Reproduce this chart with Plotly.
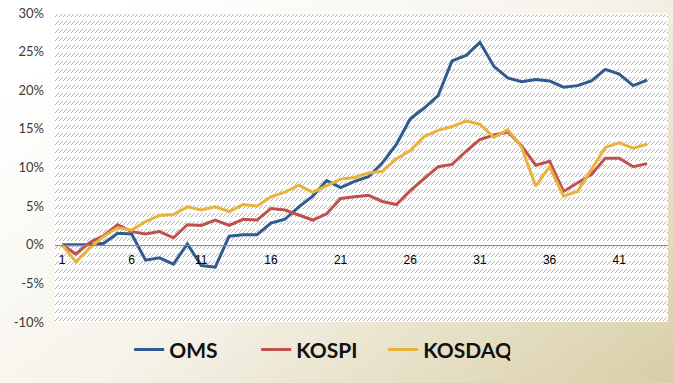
import base64
import plotly.graph_objects as go

# ---- data ----
periods = list(range(1, 44))
oms = [0, 0, 0, 0.2, 1.5, 1.4, -2.0, -1.7, -2.5, 0.1,
       -2.7, -2.9, 1.1, 1.3, 1.3, 2.8, 3.3, 4.9, 6.3, 8.3,
       7.4, 8.2, 8.8, 10.6, 13.0, 16.3, 17.7, 19.3, 23.8, 24.5,
       26.2, 23.1, 21.6, 21.1, 21.4, 21.2, 20.4, 20.6, 21.2, 22.7,
       22.1, 20.6, 21.3]
kospi = [0, -1.2, 0.3, 1.2, 2.6, 1.7, 1.4, 1.7, 0.9, 2.6,
         2.5, 3.2, 2.5, 3.3, 3.2, 4.7, 4.5, 3.9, 3.2, 4.0,
         6.0, 6.2, 6.4, 5.6, 5.2, 7.0, 8.6, 10.1, 10.4, 12.1,
         13.6, 14.2, 14.6, 12.8, 10.3, 10.8, 6.9, 8.0, 9.1, 11.2,
         11.2, 10.1, 10.5]
kosdaq = [0, -2.2, -0.4, 1.1, 2.2, 1.9, 3.0, 3.8, 3.9, 4.9,
          4.5, 4.9, 4.3, 5.2, 5.0, 6.2, 6.8, 7.7, 6.8, 7.7,
          8.5, 8.7, 9.3, 9.5, 11.1, 12.2, 14.0, 14.8, 15.3, 16.0,
          15.6, 13.9, 14.9, 12.6, 7.6, 10.1, 6.3, 6.9, 9.7, 12.6,
          13.2, 12.5, 13.0]
series_names = ["OMS", "KOSPI", "KOSDAQ"]
x_tick_vals = [1, 6, 11, 16, 21, 26, 31, 36, 41]
x_tick_text = ["1", "6", "11", "16", "21", "26", "31", "36", "41"]
y_tick_vals = [-10, -5, 0, 5, 10, 15, 20, 25, 30]
y_tick_text = ["-10%", "-5%", "0%", "5%", "10%", "15%", "20%", "25%", "30%"]

colors = ["#2F5B8E", "#C0504D", "#E8B23C"]

W, H = 673, 383
ML, MR, MT, MB = 55, 5, 13, 61
PW, PH = W - ML - MR, H - MT - MB

# background gradient (white -> beige towards bottom right)
bg_svg = f'''<svg xmlns="http://www.w3.org/2000/svg" width="{W}" height="{H}" viewBox="0 0 {W} {H}">
<defs><linearGradient id="g" x1="0" y1="0.25" x2="1" y2="1">
<stop offset="0" stop-color="#FFFFFF"/><stop offset="0.45" stop-color="#F6F3EA"/>
<stop offset="1" stop-color="#D8CEA6"/></linearGradient></defs>
<rect width="{W}" height="{H}" fill="url(#g)"/></svg>'''

HC = "#B2B2B2"
# dashed upward diagonal hatch for the plot area
hatch_svg = f'''<svg xmlns="http://www.w3.org/2000/svg" width="{PW}" height="{PH}" viewBox="0 0 {PW} {PH}" shape-rendering="crispEdges">
<defs><pattern id="p" width="8" height="8" patternUnits="userSpaceOnUse">
<rect x="0" y="3" width="1" height="1" fill="{HC}"/><rect x="1" y="2" width="1" height="1" fill="{HC}"/>
<rect x="2" y="1" width="1" height="1" fill="{HC}"/><rect x="3" y="0" width="1" height="1" fill="{HC}"/>
<rect x="4" y="3" width="1" height="1" fill="{HC}"/><rect x="5" y="2" width="1" height="1" fill="{HC}"/>
<rect x="6" y="1" width="1" height="1" fill="{HC}"/><rect x="7" y="0" width="1" height="1" fill="{HC}"/>
</pattern></defs>
<rect width="{PW}" height="{PH}" fill="#FFFFFF"/><rect y="1" width="{PW}" height="{PH}" fill="url(#p)"/></svg>'''


def uri(s):
    return "data:image/svg+xml;base64," + base64.b64encode(s.encode()).decode()


fig = go.Figure()
for name, vals, c in zip(series_names, [oms, kospi, kosdaq], colors):
    fig.add_trace(go.Scatter(x=periods, y=vals, name=name, mode="lines",
                             line=dict(color=c, width=3)))

fig.update_layout(
    width=W, height=H,
    margin=dict(l=ML, r=MR, t=MT, b=MB, autoexpand=False),
    paper_bgcolor="#FFFFFF",
    plot_bgcolor="rgba(0,0,0,0)",
    images=[
        dict(source=uri(bg_svg), xref="paper", yref="paper",
             x=-ML / PW, y=1 + MT / PH, sizex=W / PW, sizey=H / PH,
             sizing="stretch", layer="below", xanchor="left", yanchor="top"),
        dict(source=uri(hatch_svg), xref="paper", yref="paper",
             x=0, y=1, sizex=1, sizey=1, sizing="stretch", layer="below",
             xanchor="left", yanchor="top"),
    ],
    xaxis=dict(range=[0.5, 44.5], showgrid=False, zeroline=False,
               showline=True, linecolor="#8A8A8A", linewidth=1,
               anchor="free", position=0.25, automargin=False,
               tickmode="array", tickvals=x_tick_vals, ticktext=x_tick_text,
               ticks="", ticklabelstandoff=4,
               tickfont=dict(family="Liberation Sans", size=12, color="#000000")),
    yaxis=dict(range=[-10, 30], showgrid=False, zeroline=False, showline=False,
               automargin=False,
               tickmode="array", tickvals=y_tick_vals, ticktext=y_tick_text,
               ticks="", ticklabelstandoff=10,
               tickfont=dict(family="Lato", size=13, color="#3A3A3A")),
    legend=dict(orientation="h", x=0.121, y=-0.09, xanchor="left", yanchor="middle",
                itemwidth=30, entrywidth=82, entrywidthmode="pixels",
                bgcolor="rgba(0,0,0,0)",
                font=dict(family="Lato", size=21, color="#111111", weight="bold")),
    showlegend=True,
)

fig.write_html("out.html", config={"displayModeBar": False},
               post_script="document.body.style.margin='0';document.body.style.overflow='hidden';")
